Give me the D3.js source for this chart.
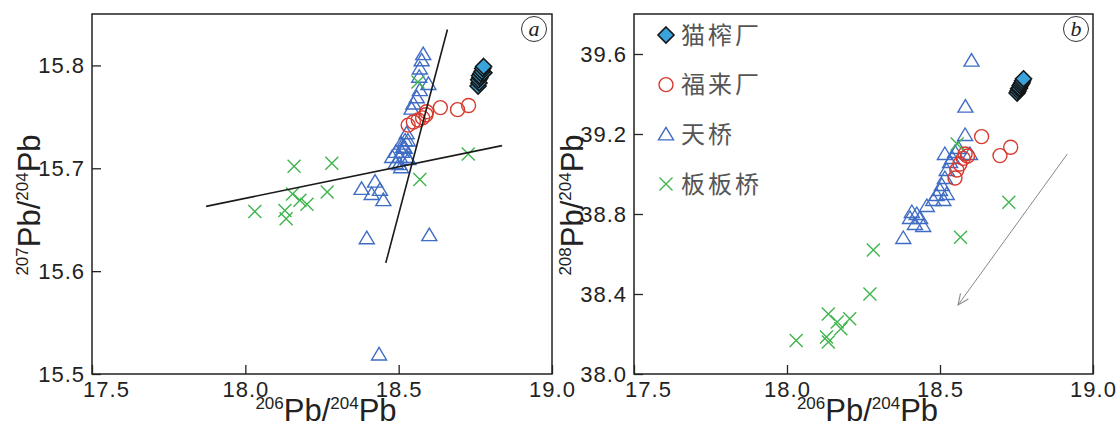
<!DOCTYPE html>
<html>
<head>
<meta charset="utf-8">
<script src="https://cdn.jsdelivr.net/npm/d3@7"></script>
<style>
  body { margin: 0; background: #fff; }
  svg text { font-family: "Liberation Sans", Arial, sans-serif; }
</style>
</head>
<body>
<div id="chart"></div>
<script>
// x ticks shared by both panels
const xTicks = [17.5, 18.0, 18.5, 19.0];
const yTicksA = [15.5, 15.6, 15.7, 15.8];
const yTicksB = [38.0, 38.4, 38.8, 39.2, 39.6];

const legendNames = ['猫榨厂', '福来厂', '天桥', '板板桥'];

// panel a : 206Pb/204Pb vs 207Pb/204Pb
const maozhaA = [[18.759, 15.780], [18.762, 15.783], [18.761, 15.786], [18.765, 15.788], [18.764, 15.790],
  [18.768, 15.792], [18.772, 15.794], [18.778, 15.793], [18.774, 15.797], [18.777, 15.799]];
const fulaiA = [[18.531, 15.742], [18.548, 15.745], [18.564, 15.747], [18.578, 15.749], [18.589, 15.752],
  [18.591, 15.755], [18.636, 15.759], [18.692, 15.757], [18.728, 15.761]];
const tianqiaoA = [[18.379, 15.680], [18.423, 15.687], [18.412, 15.675], [18.439, 15.679], [18.450, 15.669],
  [18.396, 15.632], [18.600, 15.635], [18.436, 15.519],
  [18.580, 15.811], [18.575, 15.805], [18.569, 15.797], [18.567, 15.789], [18.597, 15.782], [18.569, 15.776],
  [18.559, 15.769], [18.548, 15.763], [18.542, 15.758],
  [18.526, 15.734], [18.521, 15.727], [18.515, 15.721], [18.510, 15.716], [18.504, 15.711],
  [18.479, 15.711], [18.491, 15.716], [18.502, 15.704], [18.508, 15.701], [18.490, 15.705],
  [18.526, 15.711], [18.520, 15.720], [18.530, 15.727], [18.508, 15.724], [18.532, 15.709]];
const banbanA = [[18.031, 15.658], [18.159, 15.702], [18.282, 15.705], [18.154, 15.675], [18.178, 15.669],
  [18.201, 15.665], [18.129, 15.659], [18.133, 15.651], [18.267, 15.677], [18.569, 15.689],
  [18.563, 15.784], [18.727, 15.714]];
// two fitted lines in panel a
const lineFlat = [[17.872, 15.663], [18.837, 15.722]];
const lineSteep = [[18.458, 15.608], [18.659, 15.835]];

// panel b : 206Pb/204Pb vs 208Pb/204Pb
const maozhaB = [[18.752, 39.405], [18.755, 39.415], [18.757, 39.426], [18.760, 39.430], [18.762, 39.441],
  [18.765, 39.449], [18.768, 39.456], [18.770, 39.466], [18.773, 39.476]];
const fulaiB = [[18.549, 38.980], [18.555, 39.020], [18.565, 39.050], [18.576, 39.078], [18.582, 39.100],
  [18.590, 39.090], [18.636, 39.187], [18.696, 39.092], [18.731, 39.134]];
const tianqiaoB = [[18.603, 39.567], [18.583, 39.337], [18.582, 39.195], [18.516, 39.100], [18.549, 39.110],
  [18.598, 39.100], [18.533, 39.060], [18.522, 39.020], [18.516, 38.980], [18.506, 38.945], [18.500, 38.920],
  [18.489, 38.895], [18.522, 38.900], [18.478, 38.870], [18.511, 38.870], [18.457, 38.840], [18.408, 38.810],
  [18.424, 38.800], [18.402, 38.780], [18.435, 38.780], [18.418, 38.750], [18.445, 38.740], [18.380, 38.680],
  [18.560, 39.130], [18.540, 39.080]];
const banbanB = [[18.030, 38.168], [18.129, 38.185], [18.135, 38.160], [18.135, 38.300], [18.164, 38.260],
  [18.176, 38.226], [18.205, 38.276], [18.271, 38.400], [18.282, 38.620], [18.567, 38.684],
  [18.725, 38.859], [18.556, 39.150]];
const arrowB = [[18.916, 39.10], [18.559, 38.345]];

const colors = { maozha: '#3aa3dc', fulai: '#d63a2f', tianqiao: '#3f6cc4', banban: '#3fb54e' };

const svg = d3.select('#chart').append('svg')
  .attr('width', 1116)
  .attr('height', 426);

const defs = svg.append('defs');
defs.append('marker')
  .attr('id', 'arrow')
  .attr('viewBox', '0 0 12 12')
  .attr('refX', 11).attr('refY', 6)
  .attr('markerWidth', 13).attr('markerHeight', 13)
  .attr('markerUnits', 'userSpaceOnUse')
  .attr('orient', 'auto')
  .append('path')
  .attr('d', 'M1,1.5 L11,6 L1,10.5')
  .attr('fill', 'none')
  .attr('stroke', '#888')
  .attr('stroke-width', 1);

function drawMarker(g, kind, x, y) {
  if (kind === 'maozha') {
    g.append('path').attr('d', `M${x},${y - 8} L${x + 8},${y} L${x},${y + 8} L${x - 8},${y} Z`)
      .attr('fill', colors.maozha).attr('stroke', '#151515').attr('stroke-width', 1.6);
  } else if (kind === 'fulai') {
    g.append('circle').attr('cx', x).attr('cy', y).attr('r', 7)
      .attr('fill', 'none').attr('stroke', colors.fulai).attr('stroke-width', 1.4);
  } else if (kind === 'tianqiao') {
    g.append('path').attr('d', `M${x},${y - 7} L${x + 7.5},${y + 5.5} L${x - 7.5},${y + 5.5} Z`)
      .attr('fill', 'none').attr('stroke', colors.tianqiao).attr('stroke-width', 1.4);
  } else {
    g.append('path').attr('d', `M${x - 6.5},${y - 6.5} L${x + 6.5},${y + 6.5} M${x + 6.5},${y - 6.5} L${x - 6.5},${y + 6.5}`)
      .attr('fill', 'none').attr('stroke', colors.banban).attr('stroke-width', 1.4);
  }
}

function drawPanel(p) {
  const x = d3.scaleLinear().domain([17.5, 19.0]).range([p.left, p.right]);
  const y = d3.scaleLinear().domain(p.yDomain).range([374, 14]);
  const g = svg.append('g');

  // frame
  g.append('rect')
    .attr('x', p.left).attr('y', 14)
    .attr('width', p.right - p.left).attr('height', 360)
    .attr('fill', 'none').attr('stroke', '#222').attr('stroke-width', 1.5);

  const xAxis = g.append('g')
    .attr('transform', 'translate(0,374)')
    .call(d3.axisBottom(x).tickValues(xTicks).tickFormat(d3.format('.1f')).tickSizeInner(-9).tickSizeOuter(0).tickPadding(7));
  const yAxis = g.append('g')
    .attr('transform', `translate(${p.left},0)`)
    .call(d3.axisLeft(y).tickValues(p.yTicks).tickFormat(d3.format('.1f')).tickSizeInner(-9).tickSizeOuter(0).tickPadding(7));

  [xAxis, yAxis].forEach(a => {
    a.select('.domain').remove();
    a.selectAll('.tick line').attr('stroke', '#222').attr('stroke-width', 1.3);
    a.selectAll('.tick text')
      .attr('fill', '#222')
      .style('font-size', '22px')
      .style('letter-spacing', '1px')
      .style('font-family', '"Liberation Sans", Arial, sans-serif');
  });
  xAxis.selectAll('.tick text').filter(d => d === 17.5).attr('dx', 14);

  // axis titles
  const xt = g.append('text')
    .attr('x', (p.left + p.right) / 2 + 4).attr('y', 421)
    .attr('text-anchor', 'middle').attr('fill', '#222');
  xt.append('tspan').attr('font-size', 17).attr('dy', -12).text('206');
  xt.append('tspan').attr('font-size', 31).attr('dy', 12).text('Pb/');
  xt.append('tspan').attr('font-size', 17).attr('dy', -12).text('204');
  xt.append('tspan').attr('font-size', 31).attr('dy', 12).text('Pb');

  const yt = g.append('text')
    .attr('transform', `translate(${p.titleX},205) rotate(-90)`)
    .attr('text-anchor', 'middle').attr('fill', '#222');
  yt.append('tspan').attr('font-size', 17).attr('dy', -12).text(p.yIso);
  yt.append('tspan').attr('font-size', 31).attr('dy', 12).text('Pb/');
  yt.append('tspan').attr('font-size', 17).attr('dy', -12).text('204');
  yt.append('tspan').attr('font-size', 31).attr('dy', 12).text('Pb');

  // panel label
  g.append('circle').attr('cx', p.tagX).attr('cy', 29).attr('r', 12.5)
    .attr('fill', 'none').attr('stroke', '#333').attr('stroke-width', 1);
  g.append('text').attr('x', p.tagX).attr('y', 36)
    .attr('text-anchor', 'middle')
    .style('font-family', '"Liberation Serif", "Times New Roman", serif')
    .style('font-style', 'italic')
    .style('font-size', '22px')
    .attr('fill', '#222')
    .text(p.tag);

  const marks = g.append('g');
  p.tianqiao.forEach(d => drawMarker(marks, 'tianqiao', x(d[0]), y(d[1])));
  p.fulai.forEach(d => drawMarker(marks, 'fulai', x(d[0]), y(d[1])));
  p.banban.forEach(d => drawMarker(marks, 'banban', x(d[0]), y(d[1])));
  // lowest first so the upper diamonds cover the stack
  p.maozha.slice().sort((a, b) => a[1] - b[1])
    .forEach(d => drawMarker(marks, 'maozha', x(d[0]), y(d[1])));

  const line = d3.line().x(d => x(d[0])).y(d => y(d[1]));
  (p.lines || []).forEach(l => {
    g.append('path').attr('d', line(l))
      .attr('fill', 'none').attr('stroke', '#1a1a1a').attr('stroke-width', 1.6);
  });
  if (p.arrow) {
    g.append('path').attr('d', line(p.arrow))
      .attr('fill', 'none').attr('stroke', '#888').attr('stroke-width', 1)
      .attr('marker-end', 'url(#arrow)');
  }
}

drawPanel({
  left: 92, right: 552, yDomain: [15.5, 15.85], yTicks: yTicksA, yIso: '207', titleX: 40,
  tag: 'a', tagX: 534,
  maozha: maozhaA, fulai: fulaiA, tianqiao: tianqiaoA, banban: banbanA,
  lines: [lineFlat, lineSteep]
});

drawPanel({
  left: 634, right: 1093, yDomain: [38.0, 39.8], yTicks: yTicksB, yIso: '208', titleX: 583,
  tag: 'b', tagX: 1076,
  maozha: maozhaB, fulai: fulaiB, tianqiao: tianqiaoB, banban: banbanB,
  arrow: arrowB
});

// legend (panel b, top left)
const legendKinds = ['maozha', 'fulai', 'tianqiao', 'banban'];
const legendY = d3.scalePoint().domain(legendNames).range([35, 184]);
const legend = svg.append('g');
legendNames.forEach((name, i) => {
  drawMarker(legend, legendKinds[i], 666, legendY(name));
  legend.append('text')
    .attr('x', 681).attr('y', legendY(name))
    .attr('dy', '0.36em')
    .attr('fill', '#555')
    .style('font-family', '"Noto Sans CJK SC", sans-serif')
    .style('font-size', '24px')
    .style('letter-spacing', '3px')
    .text(name);
});
</script>
</body>
</html>
